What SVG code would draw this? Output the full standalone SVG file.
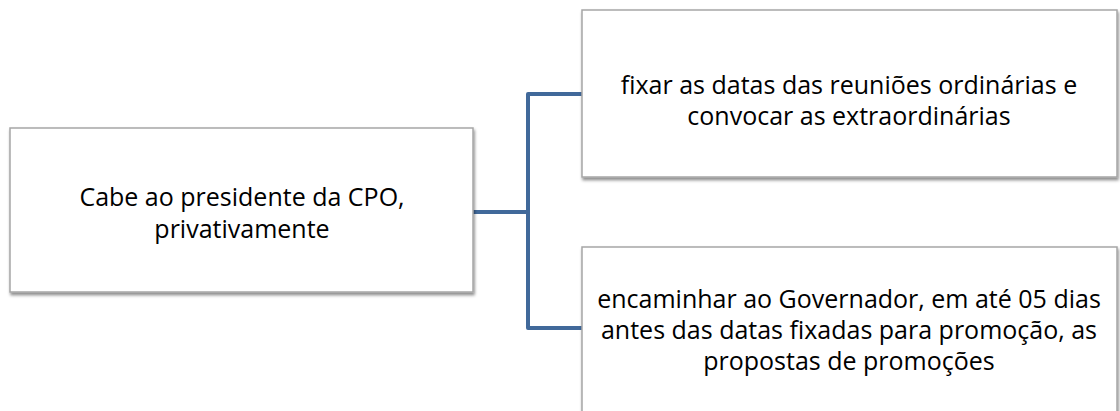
<svg xmlns="http://www.w3.org/2000/svg" width="1120" height="411" viewBox="0 0 1120 411">
<style>
.box{fill:#ffffff;stroke:#a6a6a6;stroke-width:1.5;filter:url(#sh)}
.t{font-family:"Open Sans","Liberation Sans",Arial,sans-serif;font-size:25px;fill:#000;text-anchor:middle}
.c{fill:none;stroke:#41699a;stroke-width:4;stroke-linejoin:round}
</style>
<defs>
<filter id="sh" x="-5%" y="-5%" width="110%" height="115%">
<feDropShadow dx="1" dy="2.5" stdDeviation="1.5" flood-color="#000" flood-opacity="0.45"/>
</filter>
</defs>
<rect width="1120" height="411" fill="#ffffff"/>
<g id="connectors">
<path class="c" d="M473 212 H528"/>
<path class="c" d="M582 94 H528 V328 H582"/>
</g>
<g id="root">
<rect class="box" x="10" y="128" width="463" height="164"/>
<text class="t" x="242" y="206">Cabe ao presidente da CPO,</text>
<text class="t" x="242" y="238">privativamente</text>
</g>
<g id="child1">
<rect class="box" x="582" y="10" width="535" height="167"/>
<text class="t" x="849" y="94">fixar as datas das reuniões ordinárias e</text>
<text class="t" x="849" y="125">convocar as extraordinárias</text>
</g>
<g id="child2">
<rect class="box" x="582" y="247" width="535" height="180"/>
<text class="t" x="849" y="308">encaminhar ao Governador, em até 05 dias</text>
<text class="t" x="849" y="339">antes das datas fixadas para promoção, as</text>
<text class="t" x="849" y="370">propostas de promoções</text>
</g>
</svg>
